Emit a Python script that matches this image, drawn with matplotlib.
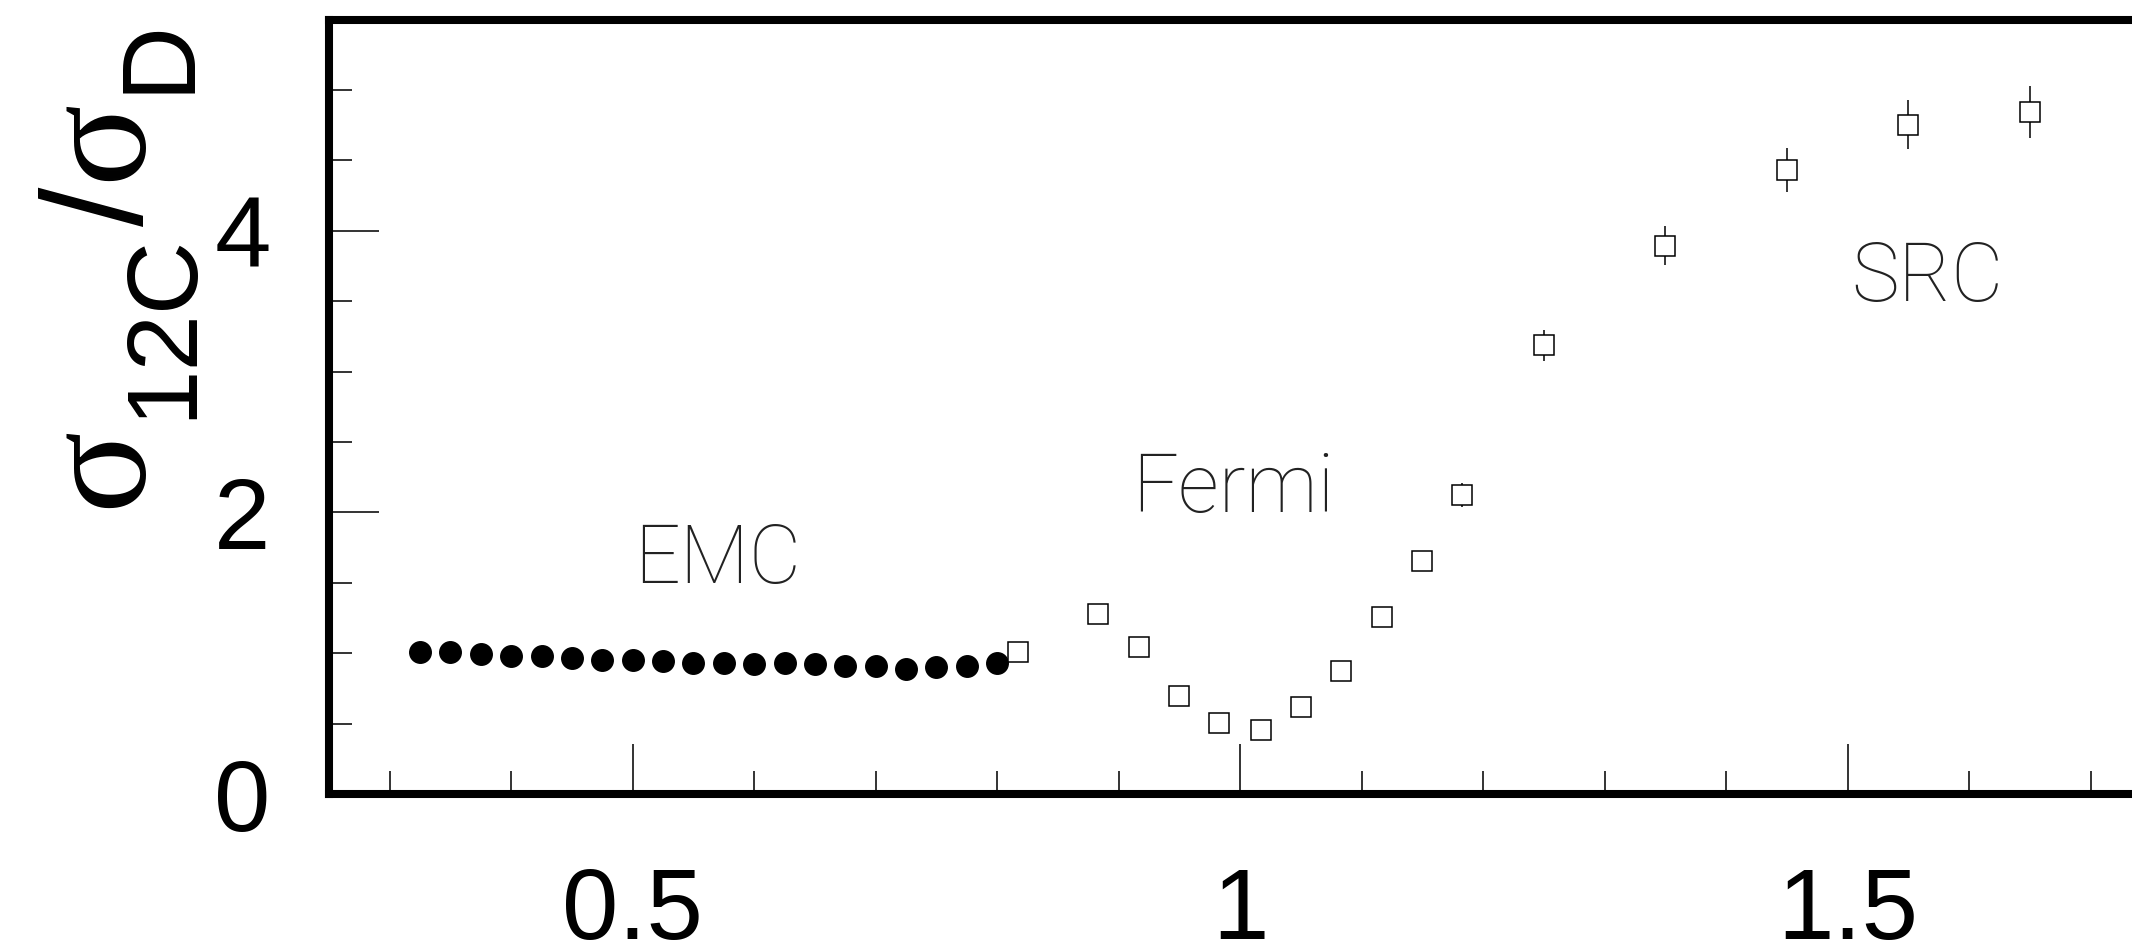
import matplotlib
matplotlib.use("Agg")
import matplotlib.pyplot as plt
from matplotlib.ticker import FixedLocator, MultipleLocator

# Inclusive cross-section ratio 12C / deuterium versus x_B
emc_x = [0.325, 0.350, 0.375, 0.400, 0.425, 0.450, 0.475, 0.500, 0.525, 0.550,
         0.575, 0.600, 0.625, 0.650, 0.675, 0.700, 0.725, 0.750, 0.775, 0.800]
emc_ratio = [1.007, 1.007, 0.996, 0.977, 0.977, 0.966, 0.953, 0.953, 0.941, 0.929,
             0.929, 0.920, 0.929, 0.920, 0.906, 0.906, 0.889, 0.901, 0.906, 0.929]

fermi_x = [0.817, 0.883, 0.917, 0.950, 0.983, 1.017, 1.050, 1.083, 1.117, 1.150, 1.183]
fermi_ratio = [1.011, 1.279, 1.047, 0.696, 0.502, 0.455, 0.616, 0.876, 1.255, 1.653, 2.124]
fermi_err = [0.02, 0.03, 0.03, 0.02, 0.02, 0.02, 0.03, 0.04, 0.05, 0.07, 0.085]

src_x = [1.25, 1.35, 1.45, 1.55, 1.65]
src_ratio = [3.185, 3.893, 4.433, 4.753, 4.843]
src_err = [0.112, 0.139, 0.156, 0.172, 0.183]

x_major = [0.5, 1.0, 1.5]
x_major_labels = ["0.5", "1", "1.5"]
y_major = [0, 2, 4]
y_major_labels = ["0", "2", "4"]

region_names = ["EMC", "Fermi", "SRC"]

W, H = 2132, 952
fig = plt.figure(figsize=(W / 100, H / 100), dpi=100)
ax = fig.add_axes([329 / W, 158 / H, 1883 / W, 774.5 / H])
ax.set_xlim(0.25, 1.80)
ax.set_ylim(0.0, 5.5)

for side in ("left", "bottom", "top"):
    ax.spines[side].set_linewidth(5.8)
ax.spines["right"].set_visible(False)

ax.xaxis.set_major_locator(FixedLocator(x_major))
ax.xaxis.set_minor_locator(MultipleLocator(0.1))
ax.yaxis.set_major_locator(FixedLocator(y_major))
ax.yaxis.set_minor_locator(MultipleLocator(0.5))
ax.set_xticklabels(x_major_labels)
ax.set_yticklabels(y_major_labels)

ax.tick_params(which="both", direction="in", width=1.4, color="#333333",
               top=False, right=False)
ax.tick_params(which="major", length=36)
ax.tick_params(which="minor", length=16.5)
ax.tick_params(axis="x", which="major", pad=52)
ax.tick_params(axis="y", which="major", pad=42)
for lab in ax.get_xticklabels() + ax.get_yticklabels():
    lab.set_fontfamily("Liberation Sans")
    lab.set_fontsize(73)

# EMC region: filled circles
ax.plot(emc_x, emc_ratio, "o", color="black", ms=15.5, zorder=3)

# Quasielastic and short-range-correlation regions: open squares with errors
ax.errorbar(fermi_x, fermi_ratio, yerr=fermi_err, fmt="s", ms=15, mfc="white",
            mec="black", mew=1.1, ecolor="black", elinewidth=1.1, capsize=0, zorder=4)
ax.errorbar(src_x, src_ratio, yerr=src_err, fmt="s", ms=15, mfc="white",
            mec="black", mew=1.1, ecolor="black", elinewidth=1.1, capsize=0, zorder=4)

label_style = dict(family="Roboto", fontweight=100, fontsize=58, color="#222222",
                   ha="center", va="baseline")
ax.text(0.570, 1.50, region_names[0], **label_style)
ax.text(0.994, 2.00, region_names[1], **label_style)
ax.text(1.566, 3.50, region_names[2], **label_style)

# Vertical axis title sigma_12C / sigma_D, assembled piece by piece
# (text, family, size in pt, baseline x in px, centre y in px from top)
title_parts = [
    ("σ", "Liberation Serif", 110, 140, 466.5),
    ("12C", "Liberation Sans", 73, 190, 326),
    ("/", "Liberation Sans", 102, 143, 206.5),
    ("σ", "Liberation Serif", 110, 140, 140),
    ("D", "Liberation Sans", 75, 188, 55),
]
for txt, fam, size, bx, cy in title_parts:
    fig.text(bx / W, 1 - cy / H, txt, family=fam, fontsize=size, rotation=90,
             rotation_mode="anchor", ha="center", va="baseline")

fig.savefig("out.png", dpi=100)
